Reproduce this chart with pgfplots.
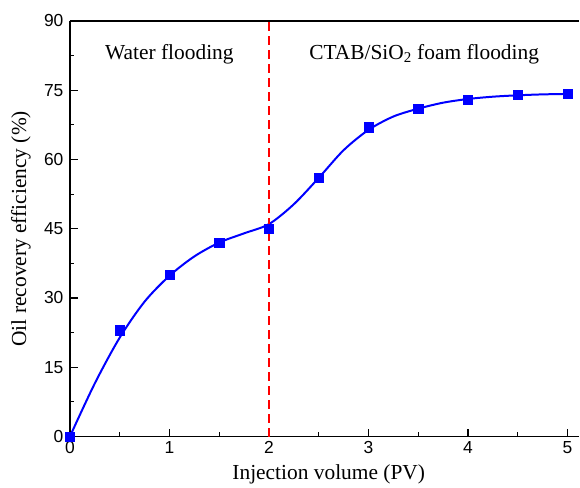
\documentclass[border=0pt]{standalone}
\usepackage{fontspec}
\setmainfont{Liberation Serif}
\newfontfamily\arialf{Liberation Sans}
\usepackage{pgfplots}
\pgfplotsset{compat=1.18}
\begin{document}
\begin{tikzpicture}
\begin{axis}[
  scale only axis,
  width=510bp, height=416bp,
  xmin=0, xmax=5.12, ymin=0, ymax=90,
  axis x line=box, axis y line=left,
  axis line style={-, line width=1.3bp},
  xtick={0,1,2,3,4,5}, minor xtick={0.5,1.5,2.5,3.5,4.5},
  ytick={0,15,30,45,60,75,90}, minor ytick={7.5,22.5,37.5,52.5,67.5,82.5},
  tick pos=left, tick align=inside,
  major tick length=8bp, minor tick length=4.5bp,
  every tick/.style={black, line width=1.2bp},
  /pgf/number format/assume math mode=true,
  tick label style={font=\arialf\fontsize{17.5}{20}\selectfont},
  xticklabel style={yshift=-1bp},
  yticklabel style={xshift=-3bp},
  xlabel={Injection volume (PV)},
  ylabel={Oil recovery efficiency (\%)},
  every axis x label/.style={at={(axis description cs:0.508,-0.091)}, anchor=center, font=\fontsize{21.5}{24}\selectfont},
  every axis y label/.style={at={(axis description cs:-0.096,0.5)}, anchor=center, rotate=90, font=\fontsize{21.5}{24}\selectfont},
  clip=false,
]
\addplot[blue, line width=2bp, smooth, tension=0.5] coordinates {
(0,0) (0.25,11.5) (0.5,21.4) (0.75,29.2) (1,34.8) (1.25,39.0) (1.5,42.0) (1.75,44.0) (2,46.0) (2.25,50.3) (2.5,56.0) (2.75,62.0) (3,66.4) (3.25,69.3) (3.5,71.0) (3.75,72.3) (4,73.1) (4.25,73.6) (4.5,73.9) (4.75,74.1) (5,74.2)
};
\addplot[only marks, mark=square*, mark size=4.7bp, blue, mark options={fill=blue}] coordinates {
(0,0) (0.5,23) (1,35) (1.5,42) (2,45) (2.5,56) (3,67) (3.5,71) (4,73) (4.5,74) (5,74.2)
};
\addplot[red, line width=2bp, dash pattern=on 9bp off 5bp] coordinates {(2,0) (2,90)};
\node[font=\fontsize{21.5}{24}\selectfont] at (axis cs:1.0,82.8) {Water flooding};
\node[font=\fontsize{21.5}{24}\selectfont] at (axis cs:3.56,82.8) {CTAB/SiO\textsubscript{2} foam flooding};
\end{axis}
\path (current axis.south west) ++(-70bp,-50bp) coordinate (bl);
\path (current axis.north east) ++(0bp,21bp) coordinate (tr);
\useasboundingbox (bl) rectangle (tr);
\end{tikzpicture}
\end{document}
